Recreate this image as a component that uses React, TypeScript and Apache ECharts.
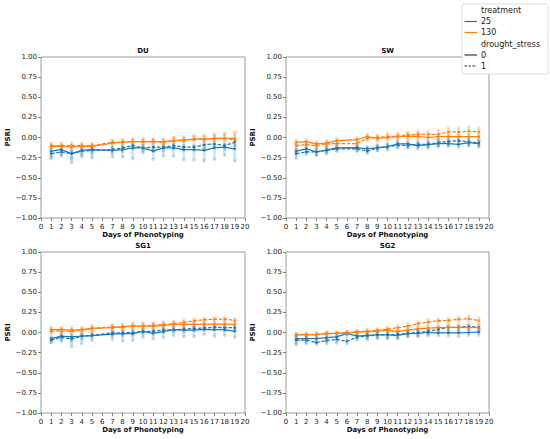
import React, { useEffect, useRef } from "react";
import * as echarts from "echarts";

const BLUE = "#1f77b4";
const ORANGE = "#ff7f0e";
const FONT = "DejaVu Sans";

const X_TICKS_MIN = 0;
const X_TICKS_MAX = 20;
const Y_MIN = -1;
const Y_MAX = 1;
const Y_STEP = 0.25;

const DAYS_NO6 = [1, 2, 3, 4, 5, 7, 8, 9, 10, 11, 12, 13, 14, 15, 16, 17, 18, 19];
const DAYS_ALL = [1, 2, 3, 4, 5, 6, 7, 8, 9, 10, 11, 12, 13, 14, 15, 16, 17, 18, 19];

const PANEL_NAMES = ["DU", "SW", "SG1", "SG2"];

// ---- DU ----
const DU_B0_MEAN = [-0.17, -0.15, -0.2, -0.16, -0.15, -0.16, -0.15, -0.13, -0.13, -0.17, -0.13, -0.13, -0.15, -0.15, -0.16, -0.13, -0.12, -0.14];
const DU_B0_LO = [-0.26, -0.23, -0.31, -0.24, -0.25, -0.24, -0.24, -0.26, -0.19, -0.27, -0.23, -0.23, -0.28, -0.28, -0.29, -0.27, -0.22, -0.29];
const DU_B0_HI = [-0.13, -0.12, -0.17, -0.13, -0.12, -0.12, -0.12, -0.1, -0.1, -0.13, -0.1, -0.1, -0.11, -0.11, -0.12, -0.1, -0.09, -0.1];
const DU_B1_MEAN = [-0.2, -0.18, -0.2, -0.17, -0.16, -0.15, -0.13, -0.1, -0.13, -0.12, -0.12, -0.1, -0.12, -0.12, -0.09, -0.08, -0.1, -0.06];
const DU_B1_LO = [-0.24, -0.21, -0.26, -0.21, -0.2, -0.19, -0.17, -0.14, -0.16, -0.16, -0.16, -0.14, -0.16, -0.16, -0.13, -0.12, -0.14, -0.1];
const DU_B1_HI = [-0.16, -0.15, -0.16, -0.14, -0.13, -0.12, -0.1, -0.08, -0.1, -0.09, -0.09, -0.07, -0.09, -0.09, -0.06, -0.05, -0.07, -0.03];
const DU_O0_MEAN = [-0.11, -0.11, -0.12, -0.11, -0.11, -0.07, -0.06, -0.05, -0.05, -0.05, -0.05, -0.04, -0.03, -0.02, -0.02, -0.01, -0.01, -0.01];
const DU_O0_LO = [-0.13, -0.13, -0.14, -0.13, -0.13, -0.09, -0.08, -0.07, -0.07, -0.07, -0.07, -0.06, -0.05, -0.04, -0.04, -0.03, -0.03, -0.04];
const DU_O0_HI = [-0.08, -0.08, -0.09, -0.08, -0.08, -0.04, -0.03, -0.02, -0.02, -0.02, -0.02, 0.0, 0.01, 0.02, 0.02, 0.03, 0.04, 0.04];
const DU_O1_MEAN = [-0.1, -0.1, -0.1, -0.1, -0.1, -0.06, -0.06, -0.05, -0.05, -0.05, -0.06, -0.04, -0.04, -0.02, -0.02, -0.01, -0.01, -0.03];
const DU_O1_LO = [-0.12, -0.12, -0.13, -0.12, -0.12, -0.08, -0.08, -0.07, -0.07, -0.07, -0.08, -0.06, -0.06, -0.04, -0.04, -0.03, -0.03, -0.06];
const DU_O1_HI = [-0.07, -0.07, -0.07, -0.07, -0.07, -0.03, -0.03, -0.02, -0.02, -0.02, -0.03, 0.0, 0.0, 0.02, 0.02, 0.04, 0.05, 0.07];

// ---- SW ----
const SW_B0_MEAN = [-0.17, -0.14, -0.18, -0.155, -0.13, -0.125, -0.14, -0.125, -0.115, -0.08, -0.08, -0.1, -0.09, -0.075, -0.075, -0.085, -0.065, -0.075];
const SW_B0_LO = [-0.21, -0.18, -0.22, -0.19, -0.16, -0.16, -0.17, -0.16, -0.15, -0.11, -0.12, -0.14, -0.13, -0.11, -0.11, -0.12, -0.1, -0.11];
const SW_B0_HI = [-0.13, -0.11, -0.15, -0.12, -0.1, -0.09, -0.11, -0.09, -0.08, -0.05, -0.05, -0.07, -0.06, -0.04, -0.04, -0.05, -0.03, -0.04];
const SW_B1_MEAN = [-0.2, -0.18, -0.18, -0.16, -0.14, -0.14, -0.17, -0.13, -0.115, -0.095, -0.1, -0.085, -0.085, -0.065, -0.05, -0.04, -0.055, -0.065];
const SW_B1_LO = [-0.26, -0.21, -0.22, -0.2, -0.17, -0.17, -0.2, -0.16, -0.14, -0.13, -0.13, -0.12, -0.12, -0.11, -0.1, -0.09, -0.1, -0.11];
const SW_B1_HI = [-0.16, -0.15, -0.14, -0.12, -0.11, -0.11, -0.13, -0.1, -0.08, -0.06, -0.07, -0.05, -0.05, -0.03, -0.02, -0.01, -0.02, -0.03];
const SW_O0_MEAN = [-0.06, -0.05, -0.08, -0.07, -0.04, -0.025, 0.01, -0.01, 0.0, 0.01, 0.015, 0.015, 0.0, 0.01, 0.01, 0.01, 0.01, 0.01];
const SW_O0_LO = [-0.09, -0.08, -0.11, -0.1, -0.07, -0.05, -0.02, -0.04, -0.03, -0.02, -0.02, -0.02, -0.03, -0.02, -0.02, -0.02, -0.02, -0.02];
const SW_O0_HI = [-0.03, -0.02, -0.05, -0.04, -0.01, 0.0, 0.04, 0.02, 0.03, 0.04, 0.05, 0.05, 0.03, 0.04, 0.04, 0.04, 0.04, 0.04];
const SW_O1_MEAN = [-0.1, -0.09, -0.1, -0.08, -0.075, -0.075, -0.01, 0.0, 0.01, 0.015, 0.03, 0.04, 0.04, 0.04, 0.07, 0.07, 0.08, 0.07];
const SW_O1_LO = [-0.13, -0.12, -0.13, -0.11, -0.1, -0.1, -0.04, -0.03, -0.02, -0.02, -0.01, 0.0, 0.0, 0.0, 0.03, 0.03, 0.04, 0.03];
const SW_O1_HI = [-0.07, -0.06, -0.07, -0.05, -0.04, -0.04, 0.02, 0.03, 0.05, 0.05, 0.07, 0.08, 0.08, 0.09, 0.12, 0.12, 0.13, 0.12];

// ---- SG1 ----
const SG1_B0_MEAN = [-0.075, -0.045, -0.055, -0.045, -0.04, -0.02, -0.015, -0.015, 0.015, -0.01, 0.01, 0.035, 0.03, 0.03, 0.04, 0.035, 0.035, 0.015];
const SG1_B0_LO = [-0.12, -0.11, -0.17, -0.14, -0.1, -0.085, -0.105, -0.1, -0.06, -0.08, -0.06, -0.035, -0.05, -0.05, -0.025, -0.045, -0.035, -0.06];
const SG1_B0_HI = [-0.05, -0.02, -0.03, -0.02, -0.01, 0.01, 0.01, 0.01, 0.04, 0.02, 0.04, 0.06, 0.06, 0.06, 0.07, 0.06, 0.06, 0.05];
const SG1_B1_MEAN = [-0.095, -0.06, -0.08, -0.045, -0.035, -0.005, -0.005, 0.0, 0.01, 0.015, 0.03, 0.035, 0.04, 0.05, 0.055, 0.065, 0.06, 0.06];
const SG1_B1_LO = [-0.12, -0.09, -0.11, -0.08, -0.06, -0.04, -0.04, -0.03, -0.02, -0.02, 0.0, 0.01, 0.01, 0.02, 0.03, 0.04, 0.03, 0.03];
const SG1_B1_HI = [-0.07, -0.03, -0.05, -0.02, -0.01, 0.02, 0.02, 0.03, 0.04, 0.04, 0.06, 0.06, 0.07, 0.08, 0.08, 0.09, 0.09, 0.09];
const SG1_O0_MEAN = [0.035, 0.035, 0.03, 0.035, 0.05, 0.06, 0.07, 0.08, 0.08, 0.08, 0.09, 0.1, 0.1, 0.1, 0.105, 0.105, 0.105, 0.1];
const SG1_O0_LO = [0.0, 0.0, 0.0, 0.01, 0.02, 0.03, 0.04, 0.05, 0.05, 0.05, 0.06, 0.07, 0.07, 0.07, 0.08, 0.08, 0.08, 0.07];
const SG1_O0_HI = [0.06, 0.06, 0.06, 0.06, 0.08, 0.09, 0.1, 0.11, 0.11, 0.11, 0.12, 0.13, 0.13, 0.13, 0.13, 0.13, 0.14, 0.13];
const SG1_O1_MEAN = [0.015, 0.02, 0.015, 0.03, 0.05, 0.07, 0.07, 0.08, 0.08, 0.09, 0.1, 0.11, 0.125, 0.145, 0.16, 0.165, 0.165, 0.15];
const SG1_O1_LO = [-0.01, -0.01, -0.01, 0.0, 0.02, 0.04, 0.04, 0.05, 0.05, 0.06, 0.07, 0.08, 0.1, 0.12, 0.13, 0.14, 0.14, 0.12];
const SG1_O1_HI = [0.05, 0.06, 0.05, 0.06, 0.08, 0.1, 0.1, 0.11, 0.12, 0.12, 0.13, 0.14, 0.16, 0.17, 0.18, 0.19, 0.19, 0.17];

// ---- SG2 ----
const SG2_B0_MEAN = [-0.08, -0.075, -0.075, -0.065, -0.055, -0.01, -0.045, -0.035, -0.03, -0.03, -0.035, -0.015, -0.01, 0.0, -0.005, -0.005, -0.005, 0.0, 0.005];
const SG2_B0_LO = [-0.15, -0.12, -0.12, -0.11, -0.1, -0.04, -0.08, -0.07, -0.07, -0.07, -0.07, -0.05, -0.05, -0.04, -0.04, -0.04, -0.05, -0.03, -0.03];
const SG2_B0_HI = [-0.05, -0.05, -0.05, -0.04, -0.03, 0.01, -0.02, -0.01, 0.0, 0.0, 0.0, 0.01, 0.02, 0.03, 0.02, 0.02, 0.02, 0.03, 0.04];
const SG2_B1_MEAN = [-0.095, -0.095, -0.125, -0.1, -0.085, -0.11, -0.055, -0.045, -0.03, -0.025, -0.025, -0.01, 0.0, 0.015, 0.04, 0.065, 0.065, 0.075, 0.065];
const SG2_B1_LO = [-0.13, -0.14, -0.15, -0.14, -0.13, -0.14, -0.09, -0.09, -0.07, -0.07, -0.07, -0.05, -0.04, -0.02, 0.0, 0.02, 0.02, 0.04, 0.02];
const SG2_B1_HI = [-0.06, -0.06, -0.1, -0.07, -0.06, -0.08, -0.03, -0.02, 0.0, 0.0, 0.0, 0.02, 0.03, 0.05, 0.07, 0.09, 0.09, 0.1, 0.09];
const SG2_O0_MEAN = [-0.03, -0.03, -0.025, -0.015, -0.01, -0.005, 0.005, 0.01, 0.015, 0.03, 0.01, 0.03, 0.045, 0.055, 0.06, 0.065, 0.065, 0.065, 0.06];
const SG2_O0_LO = [-0.05, -0.05, -0.04, -0.03, -0.03, -0.02, -0.01, -0.01, 0.0, 0.01, -0.01, 0.01, 0.02, 0.03, 0.04, 0.04, 0.04, 0.04, 0.04];
const SG2_O0_HI = [-0.01, -0.01, 0.0, 0.01, 0.01, 0.01, 0.02, 0.03, 0.03, 0.05, 0.03, 0.05, 0.07, 0.08, 0.08, 0.09, 0.09, 0.09, 0.08];
const SG2_O1_MEAN = [-0.025, -0.025, -0.025, -0.01, -0.01, -0.005, 0.01, 0.015, 0.03, 0.04, 0.06, 0.08, 0.11, 0.13, 0.145, 0.15, 0.165, 0.17, 0.15];
const SG2_O1_LO = [-0.04, -0.04, -0.04, -0.03, -0.03, -0.02, -0.01, 0.0, 0.01, 0.02, 0.03, 0.05, 0.08, 0.1, 0.12, 0.12, 0.14, 0.14, 0.12];
const SG2_O1_HI = [-0.01, -0.01, -0.01, 0.01, 0.01, 0.01, 0.03, 0.04, 0.05, 0.07, 0.09, 0.11, 0.14, 0.16, 0.17, 0.18, 0.19, 0.21, 0.18];

const LEGEND_TREATMENTS = ["25", "130"];
const LEGEND_STRESS = ["0", "1"];

type Group = { color: string; dashed: boolean; mean: number[]; lo: number[]; hi: number[] };
type Panel = { name: string; days: number[]; groups: Group[] };

const PANELS: Panel[] = [
  {
    name: PANEL_NAMES[0], days: DAYS_NO6, groups: [
      { color: BLUE, dashed: false, mean: DU_B0_MEAN, lo: DU_B0_LO, hi: DU_B0_HI },
      { color: BLUE, dashed: true, mean: DU_B1_MEAN, lo: DU_B1_LO, hi: DU_B1_HI },
      { color: ORANGE, dashed: false, mean: DU_O0_MEAN, lo: DU_O0_LO, hi: DU_O0_HI },
      { color: ORANGE, dashed: true, mean: DU_O1_MEAN, lo: DU_O1_LO, hi: DU_O1_HI },
    ],
  },
  {
    name: PANEL_NAMES[1], days: DAYS_NO6, groups: [
      { color: BLUE, dashed: false, mean: SW_B0_MEAN, lo: SW_B0_LO, hi: SW_B0_HI },
      { color: BLUE, dashed: true, mean: SW_B1_MEAN, lo: SW_B1_LO, hi: SW_B1_HI },
      { color: ORANGE, dashed: false, mean: SW_O0_MEAN, lo: SW_O0_LO, hi: SW_O0_HI },
      { color: ORANGE, dashed: true, mean: SW_O1_MEAN, lo: SW_O1_LO, hi: SW_O1_HI },
    ],
  },
  {
    name: PANEL_NAMES[2], days: DAYS_NO6, groups: [
      { color: BLUE, dashed: false, mean: SG1_B0_MEAN, lo: SG1_B0_LO, hi: SG1_B0_HI },
      { color: BLUE, dashed: true, mean: SG1_B1_MEAN, lo: SG1_B1_LO, hi: SG1_B1_HI },
      { color: ORANGE, dashed: false, mean: SG1_O0_MEAN, lo: SG1_O0_LO, hi: SG1_O0_HI },
      { color: ORANGE, dashed: true, mean: SG1_O1_MEAN, lo: SG1_O1_LO, hi: SG1_O1_HI },
    ],
  },
  {
    name: PANEL_NAMES[3], days: DAYS_ALL, groups: [
      { color: BLUE, dashed: false, mean: SG2_B0_MEAN, lo: SG2_B0_LO, hi: SG2_B0_HI },
      { color: BLUE, dashed: true, mean: SG2_B1_MEAN, lo: SG2_B1_LO, hi: SG2_B1_HI },
      { color: ORANGE, dashed: false, mean: SG2_O0_MEAN, lo: SG2_O0_LO, hi: SG2_O0_HI },
      { color: ORANGE, dashed: true, mean: SG2_O1_MEAN, lo: SG2_O1_LO, hi: SG2_O1_HI },
    ],
  },
];

const GRID_BOXES = [
  { left: 41, top: 57, width: 204, height: 161 },
  { left: 286, top: 57, width: 203, height: 161 },
  { left: 41, top: 252, width: 204, height: 161 },
  { left: 286, top: 252, width: 203, height: 161 },
];

function hexA(hex: string, a: number) {
  const r = parseInt(hex.slice(1, 3), 16);
  const g = parseInt(hex.slice(3, 5), 16);
  const b = parseInt(hex.slice(5, 7), 16);
  return `rgba(${r},${g},${b},${a})`;
}

function fmtY(v: number) {
  if (Math.abs(v) < 1e-9) return "0.00";
  return (v < 0 ? "\u2212" : "") + Math.abs(v).toFixed(2);
}

function buildOption() {
  const grids: any[] = [];
  const xAxes: any[] = [];
  const yAxes: any[] = [];
  const series: any[] = [];
  const graphics: any[] = [];

  PANELS.forEach((p, i) => {
    const g = GRID_BOXES[i];
    grids.push({ ...g, show: true, borderColor: "#9a9a9a", borderWidth: 1, backgroundColor: "transparent", containLabel: false, outerBoundsMode: "none" });
    xAxes.push({
      type: "value", gridIndex: i, min: X_TICKS_MIN, max: X_TICKS_MAX, interval: 1, position: "bottom",
      name: "Days of Phenotyping", nameLocation: "middle", nameGap: 13,
      nameTextStyle: { fontFamily: FONT, fontSize: 7, fontWeight: "bold", color: "#111" },
      axisLine: { show: false, onZero: false }, splitLine: { show: false },
      axisTick: { show: true, length: 3, lineStyle: { color: "#666", width: 0.8 } },
      axisLabel: { show: true, interval: 0, margin: 5, fontFamily: FONT, fontSize: 7, color: "#222", hideOverlap: false, showMinLabel: true, showMaxLabel: true },
    });
    yAxes.push({
      type: "value", gridIndex: i, min: Y_MIN, max: Y_MAX, interval: Y_STEP, position: "left",
      name: "PSRI", nameLocation: "middle", nameGap: 28,
      nameTextStyle: { fontFamily: FONT, fontSize: 7, fontWeight: "bold", color: "#111" },
      axisLine: { show: false, onZero: false }, splitLine: { show: false },
      axisTick: { show: true, length: 3, lineStyle: { color: "#666", width: 0.8 } },
      axisLabel: { show: true, margin: 4, fontFamily: FONT, fontSize: 7, color: "#222", formatter: fmtY, showMinLabel: true, showMaxLabel: true },
    });
    graphics.push({
      type: "text", x: g.left + g.width / 2, y: g.top - 6, z: 10,
      style: { text: p.name, fontFamily: FONT, fontSize: 7, fontWeight: "bold", fill: "#111", textAlign: "center", textVerticalAlign: "middle" },
    });

    p.groups.forEach((gr) => {
      const rangeData = p.days.map((d, k) => [d, gr.lo[k], gr.hi[k]]);
      series.push({
        type: "custom", xAxisIndex: i, yAxisIndex: i, z: 1, silent: true,
        data: rangeData,
        renderItem: (params: any, api: any) => {
          const a = api.coord([api.value(0), api.value(1)]);
          const b = api.coord([api.value(0), api.value(2)]);
          return {
            type: "rect",
            shape: { x: a[0] - 1.5, y: b[1], width: 3, height: a[1] - b[1], r: 1.5 },
            style: { fill: hexA(gr.color, 0.2) },
          };
        },
      });
      const dots: number[][] = [];
      p.days.forEach((d, k) => { dots.push([d, gr.lo[k]]); dots.push([d, gr.hi[k]]); });
      series.push({
        type: "scatter", xAxisIndex: i, yAxisIndex: i, z: 2, silent: true,
        data: dots, symbol: "circle", symbolSize: 3.6,
        itemStyle: { color: hexA(gr.color, 0.3) },
      });
      series.push({
        type: "line", xAxisIndex: i, yAxisIndex: i, z: 3, silent: true,
        data: p.days.map((d, k) => [d, gr.mean[k]]),
        symbol: "circle", symbolSize: 2.4, showSymbol: true,
        itemStyle: { color: gr.color },
        lineStyle: { color: gr.color, width: 1.25, type: gr.dashed ? [3.5, 1.6] : "solid" },
      });
    });
  });

  // legend (drawn as graphic)
  const lx = 462, ly = 4;
  const rows = [10.7, 21.5, 32.5, 44, 55, 66];
  const leg: any[] = [
    { type: "rect", shape: { x: lx, y: ly, width: 86, height: 70, r: 2 }, style: { fill: "rgba(255,255,255,0.85)", stroke: "#d0d0d0", lineWidth: 0.8 }, z: 20 },
  ];
  const textStyle = (t: string, y: number) => ({
    type: "text", x: 481, y, z: 21,
    style: { text: t, fontFamily: FONT, fontSize: 8, fill: "#222", textAlign: "left", textVerticalAlign: "middle" },
  });
  leg.push(textStyle("treatment", rows[0]));
  leg.push({ type: "line", shape: { x1: 464.5, y1: rows[1], x2: 477, y2: rows[1] }, style: { stroke: BLUE, lineWidth: 1.2 }, z: 21 });
  leg.push(textStyle(LEGEND_TREATMENTS[0], rows[1]));
  leg.push({ type: "line", shape: { x1: 464.5, y1: rows[2], x2: 477, y2: rows[2] }, style: { stroke: ORANGE, lineWidth: 1.2 }, z: 21 });
  leg.push(textStyle(LEGEND_TREATMENTS[1], rows[2]));
  leg.push(textStyle("drought_stress", rows[3]));
  leg.push({ type: "line", shape: { x1: 464.5, y1: rows[4], x2: 477, y2: rows[4] }, style: { stroke: "#333", lineWidth: 1.2 }, z: 21 });
  leg.push(textStyle(LEGEND_STRESS[0], rows[4]));
  leg.push({ type: "line", shape: { x1: 464.5, y1: rows[5], x2: 477, y2: rows[5] }, style: { stroke: "#333", lineWidth: 1.2, lineDash: [2.5, 1.5] }, z: 21 });
  leg.push(textStyle(LEGEND_STRESS[1], rows[5]));

  return {
    animation: false,
    backgroundColor: "#ffffff",
    grid: grids,
    xAxis: xAxes,
    yAxis: yAxes,
    series,
    graphic: [...graphics, ...leg],
  };
}

export default function App() {
  const ref = useRef<HTMLDivElement>(null);
  useEffect(() => {
    document.body.style.margin = "0";
    if (!ref.current) return;
    const chart = echarts.init(ref.current, undefined, { renderer: "svg" });
    chart.setOption(buildOption() as any);
    return () => chart.dispose();
  }, []);
  return <div ref={ref} style={{ width: 550, height: 439 }} />;
}
